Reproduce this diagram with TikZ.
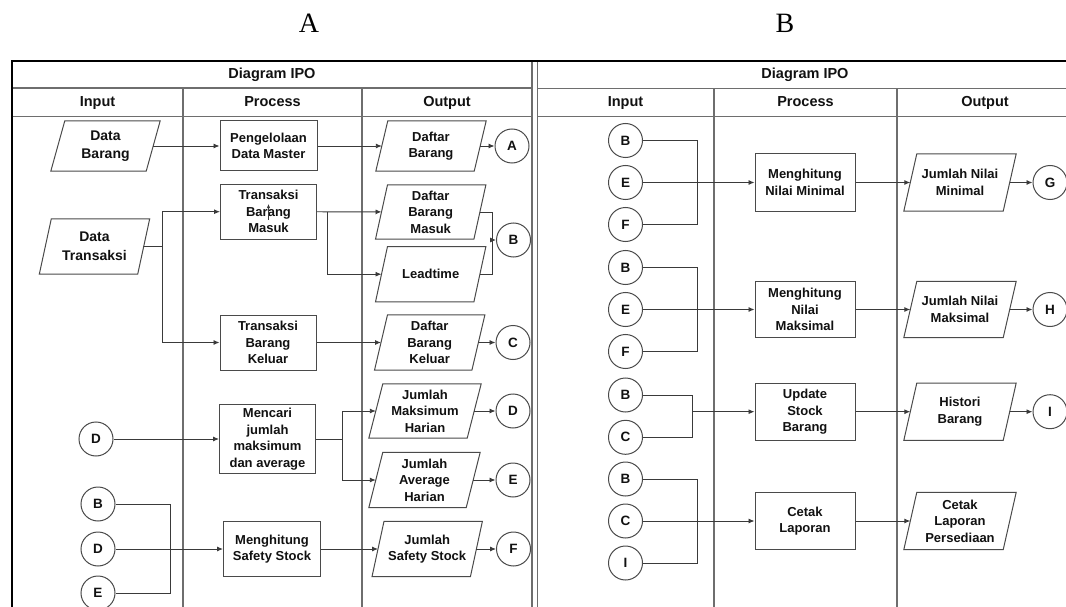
\documentclass[tikz,border=0pt]{standalone}
\usepackage{fontspec}
\setmainfont{Liberation Sans}
\newfontfamily\titleserif{Liberation Serif}
\usetikzlibrary{arrows.meta,calc}
\definecolor{gridgray}{HTML}{6E6E6E}
\definecolor{shapegray}{HTML}{4A4A4A}
\definecolor{wiregray}{HTML}{3A3A3A}
\definecolor{inkblack}{HTML}{111111}

\tikzset{
  grid line/.style={draw=gridgray, line width=1.2pt},
  frame line/.style={draw=black, line width=2.4pt},
  hdr/.style={font=\bfseries\fontsize{14.5}{17}\selectfont, text=inkblack, inner sep=0pt,
    text height=10.5pt, text depth=3pt},
  procbox/.style={draw=shapegray, line width=1pt, rectangle, inner sep=0pt, align=center,
    font=\bfseries\fontsize{13}{16.5}\selectfont, text=inkblack},
  iotext/.style={rectangle, inner sep=0pt, align=center,
    font=\bfseries\fontsize{13}{16.5}\selectfont, text=inkblack},
  intext/.style={iotext, font=\bfseries\fontsize{14}{18.5}\selectfont},
  paraline/.style={draw=shapegray, line width=1pt, line join=miter},
  conn/.style={circle, draw=shapegray, line width=1pt, minimum size=34pt, inner sep=0pt,
    font=\bfseries\fontsize{13.5}{15}\selectfont, text=inkblack},
  wire/.style={draw=wiregray, line width=0.9pt},
  flow/.style={wire, -{Latex[length=6pt,width=5pt]}},
  title/.style={font=\titleserif\fontsize{28}{30}\selectfont, inner sep=0pt},
}
% outline of a data (input/output) symbol around a text node
\newcommand\slantbox[2]{%
  \draw[paraline] ($(#1.north west)+(#2,0)$) -- ($(#1.north east)+(#2,0)$)
    -- ($(#1.south east)-(#2,0)$) -- ($(#1.south west)-(#2,0)$) -- cycle;}

\begin{document}
\begin{tikzpicture}[x=1pt,y=-1pt]
\useasboundingbox (0,0) rectangle (1066,607);

% ---------- titles ----------
\node[title] (ttlA) at (309,23) {A};
\node[title] (ttlB) at (785,23) {B};

% ---------- table grid ----------
\draw[grid line] (12,88) -- (532,88);
\draw[grid line] (12,116.5) -- (532,116.5);
\draw[grid line] (183,88) -- (183,607);
\draw[grid line] (362,88) -- (362,607);
\draw[grid line] (532,61) -- (532,607);

\draw[grid line] (537.5,61) -- (537.5,607);
\draw[grid line] (537.5,88.5) -- (1066,88.5);
\draw[grid line] (537.5,116.5) -- (1066,116.5);
\draw[grid line] (714,88.5) -- (714,607);
\draw[grid line] (897,88.5) -- (897,607);

\draw[frame line] (12,607) -- (12,61) -- (1066,61);

% ---------- headers ----------
\node[hdr] (hA) at (272,75) {Diagram IPO};
\node[hdr] (hAi) at (97.5,102.5) {Input};
\node[hdr] (hAp) at (272.5,102.5) {Process};
\node[hdr] (hAo) at (447,102.5) {Output};

\node[hdr] (hB) at (805,75) {Diagram IPO};
\node[hdr] (hBi) at (625.5,102.5) {Input};
\node[hdr] (hBp) at (805.5,102.5) {Process};
\node[hdr] (hBo) at (985,102.5) {Output};

% ================= panel A =================
% inputs
\node[intext, minimum width=95pt, minimum height=50pt] (inA1) at (105.5,146) {Data\\Barang};
\slantbox{inA1}{7}
\node[intext, minimum width=98pt, minimum height=55pt] (inA2) at (94.5,246.5) {Data\\Transaksi};
\slantbox{inA2}{6}
\node[conn] (iD) at (96,439) {D};
\node[conn] (iB) at (98,504) {B};
\node[conn] (iD2) at (98,549) {D};
\node[conn] (iE) at (98,593) {E};

% processes
\node[procbox, minimum width=97pt, minimum height=50pt] (pA1) at (268.5,146) {Pengelolaan\\Data Master};
\node[procbox, minimum width=96pt, minimum height=55pt] (pA2) at (268.5,211.7) {Transaksi\\Barang\\Masuk};
\node[procbox, minimum width=96pt, minimum height=55pt] (pA3) at (268,342.5) {Transaksi\\Barang\\Keluar};
\node[procbox, minimum width=96pt, minimum height=69pt] (pA4) at (267.5,439) {Mencari\\jumlah\\maksimum\\dan average};
\node[procbox, minimum width=97pt, minimum height=55pt] (pA5) at (272,549) {Menghitung\\Safety Stock};

% outputs
\node[iotext, minimum width=98pt, minimum height=50pt] (oA1) at (431,146) {Daftar\\Barang};
\slantbox{oA1}{6}
\node[iotext, minimum width=98pt, minimum height=54pt] (oA2) at (430.7,212) {Daftar\\Barang\\Masuk};
\slantbox{oA2}{6}
\node[iotext, minimum width=98pt, minimum height=55pt] (oA3) at (430.7,274.2) {Leadtime};
\slantbox{oA3}{6}
\node[iotext, minimum width=97pt, minimum height=55pt] (oA4) at (429.7,342.5) {Daftar\\Barang\\Keluar};
\slantbox{oA4}{6.5}
\node[iotext, minimum width=98pt, minimum height=54pt] (oA5) at (425,411) {Jumlah\\Maksimum\\Harian};
\slantbox{oA5}{7}
\node[iotext, minimum width=97pt, minimum height=55pt] (oA6) at (424.5,480) {Jumlah\\Average\\Harian};
\slantbox{oA6}{7}
\node[iotext, minimum width=98pt, minimum height=55pt] (oA7) at (427.2,549) {Jumlah\\Safety Stock};
\slantbox{oA7}{6}

% off-page connectors
\node[conn] (cA) at (512,146) {A};
\node[conn] (cB) at (513.5,240) {B};
\node[conn] (cC) at (513,342.5) {C};
\node[conn] (cD) at (513,411) {D};
\node[conn] (cE) at (513,480) {E};
\node[conn] (cF) at (513.5,549) {F};

% junction columns
\coordinate (jT) at (162,0);
\coordinate (jM) at (327.6,0);
\coordinate (jBm) at (492.4,0);
\coordinate (jX) at (342,0);
\coordinate (jS) at (170,0);

% flows
\draw[flow] (inA1) -- (pA1);
\draw[flow] (pA1) -- (oA1);
\draw[flow] (oA1) -- (cA);

\draw[flow] (inA2.east) -- (inA2.east -| jT) |- (pA2.west);
\draw[flow] (inA2.east -| jT) |- (pA3.west);

\draw[flow] (pA2) -- (oA2);
\draw[flow] (pA2.east -| jM) |- (oA3.west);
\draw[wire] (oA2.east) -| (jBm |- oA3.east) -- (oA3.east);
\draw[flow] (jBm |- cB) -- (cB);
\draw[wire, -{Latex[length=4.5pt,width=3.5pt]}] ($(pA2.center)+(0,8)$) -- ($(pA2.center)+(0,-8)$);

\draw[flow] (pA3) -- (oA4);
\draw[flow] (oA4) -- (cC);

\draw[flow] (iD) -- (pA4);
\draw[flow] (pA4.east) -- (pA4.east -| jX) |- (oA5.west);
\draw[flow] (pA4.east -| jX) |- (oA6.west);
\draw[flow] (oA5) -- (cD);
\draw[flow] (oA6) -- (cE);

\draw[wire] (iB.east) -| (jS |- iE) -- (iE.east);
\draw[flow] (iD2) -- (pA5);
\draw[flow] (pA5) -- (oA7);
\draw[flow] (oA7) -- (cF);

% ================= panel B =================
\node[conn] (bB1) at (625.5,140.5) {B};
\node[conn] (bE1) at (625.5,182.5) {E};
\node[conn] (bF1) at (625.5,224.5) {F};
\node[conn] (bB2) at (625.5,267.5) {B};
\node[conn] (bE2) at (625.5,309.5) {E};
\node[conn] (bF2) at (625.5,351.5) {F};
\node[conn] (bB3) at (625.5,395) {B};
\node[conn] (bC3) at (625.5,437.3) {C};
\node[conn] (bB4) at (625.5,479) {B};
\node[conn] (bC4) at (625.5,521) {C};
\node[conn] (bI4) at (625.5,563) {I};

\node[procbox, minimum width=100pt, minimum height=57pt] (pB1) at (805,182.5) {Menghitung\\Nilai Minimal};
\node[procbox, minimum width=100pt, minimum height=56pt] (pB2) at (805,309.5) {Menghitung\\Nilai\\Maksimal};
\node[procbox, minimum width=100pt, minimum height=57pt] (pB3) at (805,411.7) {Update\\Stock\\Barang};
\node[procbox, minimum width=100pt, minimum height=57pt] (pB4) at (805,521) {Cetak\\Laporan};

\node[iotext, minimum width=99pt, minimum height=57pt] (oB1) at (960,182.5) {Jumlah Nilai\\Minimal};
\slantbox{oB1}{6.5}
\node[iotext, minimum width=99pt, minimum height=56pt] (oB2) at (960,309.5) {Jumlah Nilai\\Maksimal};
\slantbox{oB2}{6.5}
\node[iotext, minimum width=99pt, minimum height=57pt] (oB3) at (960,411.7) {Histori\\Barang};
\slantbox{oB3}{6.5}
\node[iotext, minimum width=99pt, minimum height=57pt] (oB4) at (960,521) {Cetak\\Laporan\\Persediaan};
\slantbox{oB4}{6.5}

\node[conn] (cG) at (1050,182.5) {G};
\node[conn] (cH) at (1050,309.5) {H};
\node[conn] (cI) at (1050,411.7) {I};

\coordinate (jB1) at (697.4,0);
\coordinate (jB3) at (692.6,0);

\draw[wire] (bB1.east) -| (jB1 |- bF1) -- (bF1.east);
\draw[flow] (bE1) -- (pB1);
\draw[flow] (pB1) -- (oB1);
\draw[flow] (oB1) -- (cG);

\draw[wire] (bB2.east) -| (jB1 |- bF2) -- (bF2.east);
\draw[flow] (bE2) -- (pB2);
\draw[flow] (pB2) -- (oB2);
\draw[flow] (oB2) -- (cH);

\draw[wire] (bB3.east) -| (jB3 |- bC3) -- (bC3.east);
\draw[flow] (jB3 |- pB3) -- (pB3);
\draw[flow] (pB3) -- (oB3);
\draw[flow] (oB3) -- (cI);

\draw[wire] (bB4.east) -| (jB1 |- bI4) -- (bI4.east);
\draw[flow] (bC4) -- (pB4);
\draw[flow] (pB4) -- (oB4);
\end{tikzpicture}
\end{document}
